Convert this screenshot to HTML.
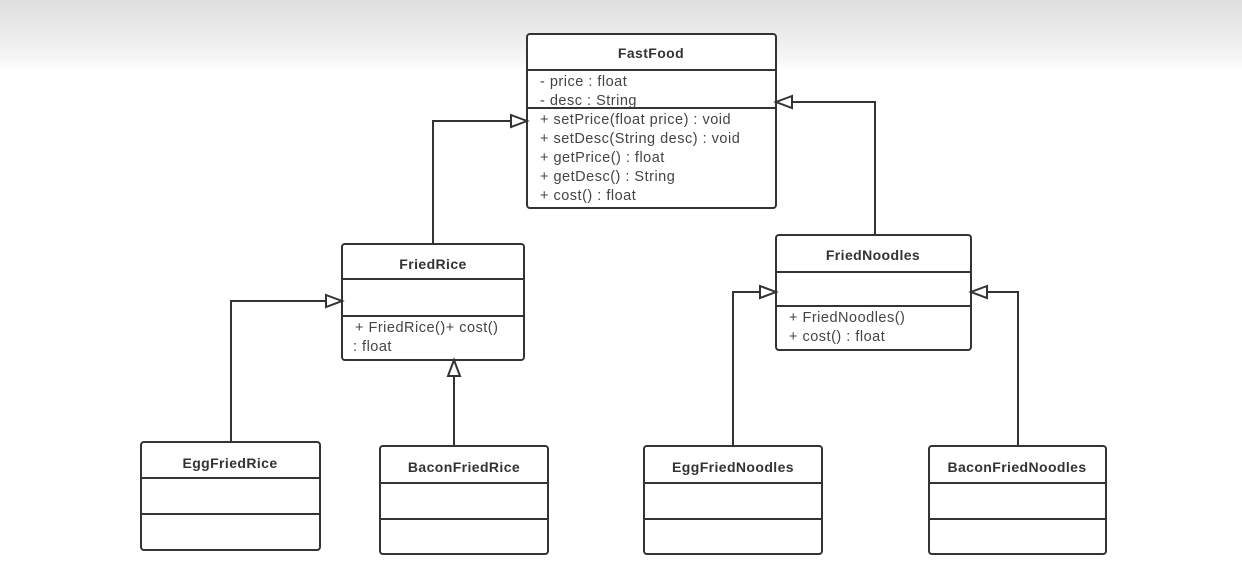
<!DOCTYPE html>
<html><head><meta charset="utf-8"><style>
html,body{margin:0;padding:0;width:1242px;height:578px;overflow:hidden;background:#fff}
.bg{position:absolute;left:0;top:0;width:1242px;height:70px;background:linear-gradient(#dedede,#f6f6f6 85%,#fff)}
svg{position:absolute;left:0;top:0}
text{font-family:"Liberation Sans",sans-serif;fill:#333}
.t{font-weight:bold;font-size:14px;text-anchor:middle;letter-spacing:0.4px}
.m{font-size:14.5px;fill:#444;letter-spacing:0.5px}
</style></head><body>
<div class="bg"></div>
<svg width="1242" height="578" viewBox="0 0 1242 578">
<g fill="#fff" stroke="#333" stroke-width="2">
<rect x="527" y="34" width="249" height="174" rx="3"/>
<rect x="342" y="244" width="182" height="116" rx="3"/>
<rect x="776" y="235" width="195" height="115" rx="3"/>
<rect x="141" y="442" width="179" height="108" rx="3"/>
<rect x="380" y="446" width="168" height="108" rx="3"/>
<rect x="644" y="446" width="178" height="108" rx="3"/>
<rect x="929" y="446" width="177" height="108" rx="3"/>
</g>
<g stroke="#333" stroke-width="2" fill="none">
<path d="M527 70H776M527 108H776"/>
<path d="M342 279H524M342 316H524"/>
<path d="M776 272H971M776 306H971"/>
<path d="M141 478H320M141 514H320"/>
<path d="M380 483H548M380 519H548"/>
<path d="M644 483H822M644 519H822"/>
<path d="M929 483H1106M929 519H1106"/>
<path d="M433 244V121H511"/>
<path d="M875 235V102H792"/>
<path d="M231 442V301H326"/>
<path d="M454 446V376"/>
<path d="M733 446V292H760"/>
<path d="M1018 446V292H987"/>
</g>
<g stroke="#333" stroke-width="2" fill="#fff" stroke-linejoin="miter">
<path d="M511 115L527 121L511 127Z"/>
<path d="M792 96L776 102L792 108Z"/>
<path d="M326 295L342 301L326 307Z"/>
<path d="M448 376L454 360L460 376Z"/>
<path d="M760 286L776 292L760 298Z"/>
<path d="M987 286L971 292L987 298Z"/>
</g>
<text class="t" x="651" y="58">FastFood</text>
<text class="m" x="540" y="86">- price : float</text>
<text class="m" x="540" y="105">- desc : String</text>
<text class="m" x="540" y="124">+ setPrice(float price) : void</text>
<text class="m" x="540" y="143">+ setDesc(String desc) : void</text>
<text class="m" x="540" y="162">+ getPrice() : float</text>
<text class="m" x="540" y="181">+ getDesc() : String</text>
<text class="m" x="540" y="200">+ cost() : float</text>
<text class="t" x="433" y="269">FriedRice</text>
<text class="m" x="355" y="332">+ FriedRice()+ cost()</text>
<text class="m" x="353" y="351">: float</text>
<text class="t" x="873" y="260">FriedNoodles</text>
<text class="m" x="789" y="322">+ FriedNoodles()</text>
<text class="m" x="789" y="341">+ cost() : float</text>
<text class="t" x="230" y="468">EggFriedRice</text>
<text class="t" x="464" y="472">BaconFriedRice</text>
<text class="t" x="733" y="472">EggFriedNoodles</text>
<text class="t" x="1017" y="472">BaconFriedNoodles</text>
</svg>
</body></html>
